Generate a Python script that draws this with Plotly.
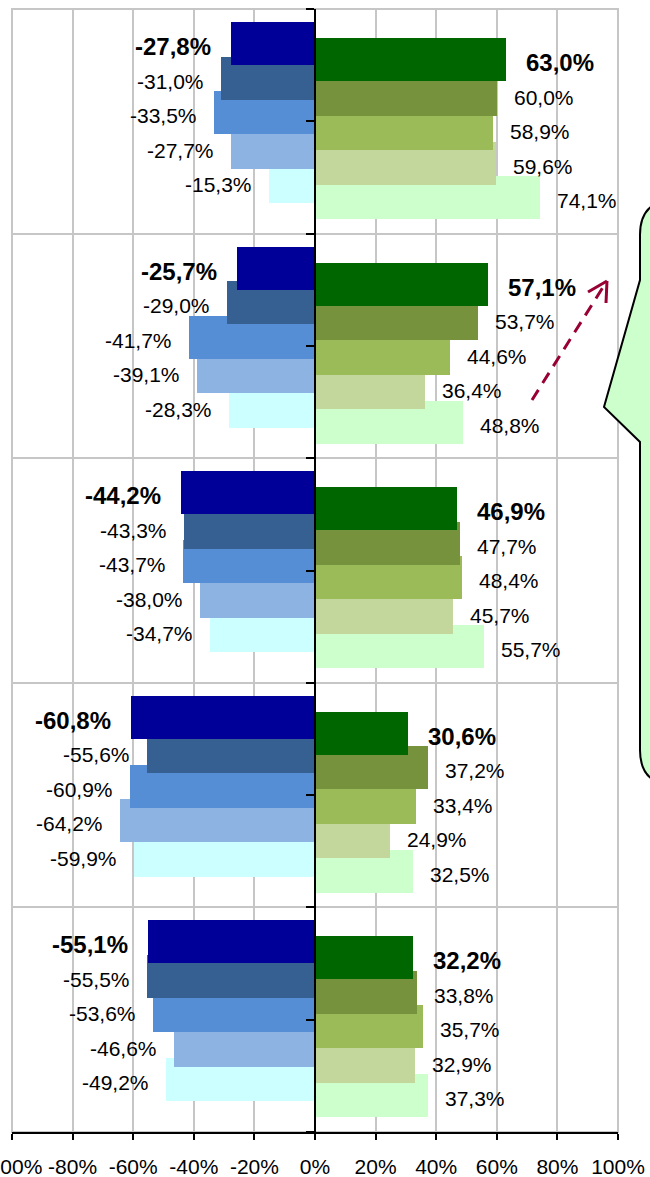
import plotly.graph_objects as go

# ---------------- data ----------------
groups = ["1", "2", "3", "4", "5"]

neg_s1 = [-27.8, -25.7, -44.2, -60.8, -55.1]
neg_s2 = [-31.0, -29.0, -43.3, -55.6, -55.5]
neg_s3 = [-33.5, -41.7, -43.7, -60.9, -53.6]
neg_s4 = [-27.7, -39.1, -38.0, -64.2, -46.6]
neg_s5 = [-15.3, -28.3, -34.7, -59.9, -49.2]

pos_s1 = [63.0, 57.1, 46.9, 30.6, 32.2]
pos_s2 = [60.0, 53.7, 47.7, 37.2, 33.8]
pos_s3 = [58.9, 44.6, 48.4, 33.4, 35.7]
pos_s4 = [59.6, 36.4, 45.7, 24.9, 32.9]
pos_s5 = [74.1, 48.8, 55.7, 32.5, 37.3]

x_tick_vals = [-100, -80, -60, -40, -20, 0, 20, 40, 60, 80, 100]
x_tick_text = ["-100%", "-80%", "-60%", "-40%", "-20%", "0%", "20%", "40%", "60%", "80%", "100%"]

neg_series = [neg_s1, neg_s2, neg_s3, neg_s4, neg_s5]
pos_series = [pos_s1, pos_s2, pos_s3, pos_s4, pos_s5]

neg_colors = ["#000099", "#366092", "#558ED5", "#8DB3E2", "#CCFFFF"]
pos_colors = ["#006600", "#76923C", "#9BBB59", "#C3D69B", "#CCFFCC"]

# ---------------- layout geometry ----------------
W, H = 650, 1177
PL, PR, PT, PB = 12, 618, 9, 1132
BAND = (PB - PT) / len(groups)  # px per group

NEG_OFF, POS_OFF, PITCH, BAR_H = 34.5, 50.5, 34.5, 43.0
GRID = "#C6C6C6"


def ypos(g, j, off):
    return g + (off + PITCH * j) / BAND


def fmt(v):
    return f"{v:.1f}".replace(".", ",") + "%"


FONT = "Arial, Liberation Sans, sans-serif"

fig = go.Figure()
annotations = []

for j in reversed(range(5)):
    ys = [ypos(g, j, NEG_OFF) for g in range(len(groups))]
    fig.add_trace(go.Bar(
        x=neg_series[j], y=ys, orientation="h", width=BAR_H / BAND,
        marker=dict(color=neg_colors[j], line=dict(width=0)),
        showlegend=False, hoverinfo="skip"))
    ys2 = [ypos(g, j, POS_OFF) for g in range(len(groups))]
    fig.add_trace(go.Bar(
        x=pos_series[j], y=ys2, orientation="h", width=BAR_H / BAND,
        marker=dict(color=pos_colors[j], line=dict(width=0)),
        showlegend=False, hoverinfo="skip"))

for j in range(5):
    bold = j == 0
    for g in range(len(groups)):
        v = neg_series[j][g]
        annotations.append(dict(
            x=v, y=ypos(g, j, NEG_OFF), xref="x", yref="y",
            text=(f"<b>{fmt(v)}</b>" if bold else fmt(v)),
            showarrow=False, xanchor="right", yanchor="middle",
            xshift=-(18 if bold else 15), yshift=-3,
            font=dict(family=FONT, size=24 if bold else 21, color="black")))
        v = pos_series[j][g]
        annotations.append(dict(
            x=v, y=ypos(g, j, POS_OFF), xref="x", yref="y",
            text=(f"<b>{fmt(v)}</b>" if bold else fmt(v)),
            showarrow=False, xanchor="left", yanchor="middle",
            xshift=(18 if bold else 15), yshift=-3,
            font=dict(family=FONT, size=24 if bold else 21, color="black")))


def px(x):
    return (x - PL) / (PR - PL)


def py(y):
    return (PB - y) / (PB - PT)


# callout bubble (partially outside the picture)
cpts = [
    ("M", [(640, 280)]), ("L", [(640, 235)]), ("Q", [(640, 200), (675, 200)]),
    ("L", [(720, 200)]), ("L", [(720, 785)]), ("L", [(675, 785)]),
    ("Q", [(640, 785), (640, 750)]), ("L", [(640, 442)]), ("L", [(604, 407)]),
]
path = ""
for cmd, pts in cpts:
    path += cmd + " ".join(f"{px(a):.5f},{py(b):.5f}" for a, b in pts) + " "
path += "Z"

ARROW = "#990033"
shapes = [
    # plot-area frame (grid lines at the range ends)
    dict(type="rect", xref="paper", yref="paper", x0=0, y0=0, x1=1, y1=1,
         line=dict(color=GRID, width=2), layer="below"),
    dict(type="path", path=path, xref="paper", yref="paper",
         fillcolor="#CCFFCC", line=dict(color="black", width=2), layer="above"),
    dict(type="line", xref="paper", yref="paper",
         x0=px(532), y0=py(400), x1=px(605), y1=py(284),
         line=dict(color=ARROW, width=3, dash="12px,8px")),
    dict(type="line", xref="paper", yref="paper",
         x0=px(607), y0=py(281), x1=px(588), y1=py(292),
         line=dict(color=ARROW, width=3)),
    dict(type="line", xref="paper", yref="paper",
         x0=px(607), y0=py(281), x1=px(606), y1=py(303),
         line=dict(color=ARROW, width=3)),
]

fig.update_layout(
    template="none",
    width=W, height=H,
    margin=dict(l=PL, r=W - PR, t=PT, b=H - PB, pad=0),
    paper_bgcolor="white", plot_bgcolor="white",
    barmode="overlay", bargap=0,
    showlegend=False,
    annotations=annotations,
    shapes=shapes,
    xaxis=dict(
        range=[-100, 100], tickmode="array", tickvals=x_tick_vals, ticktext=x_tick_text,
        showgrid=True, gridcolor=GRID, gridwidth=2,
        showline=True, linecolor="black", linewidth=2,
        ticks="outside", ticklen=6, tickwidth=2, tickcolor="black",
        zeroline=False, automargin=False, ticklabelstandoff=9,
        ticklabeloverflow="allow",
        tickfont=dict(family=FONT, size=21, color="black"),
    ),
    yaxis=dict(
        range=[5, 0], anchor="free", position=0.5, side="left",
        tickmode="linear", tick0=0, dtick=1, showticklabels=False,
        showgrid=True, gridcolor=GRID, gridwidth=2,
        showline=True, linecolor="black", linewidth=2,
        ticks="outside", ticklen=8, tickwidth=2, tickcolor="black",
        minor=dict(tick0=0, dtick=0.5, ticks="outside", ticklen=8, tickwidth=2,
                   tickcolor="black", showgrid=False),
        zeroline=False, automargin=False,
    ),
)

fig.write_html("out.html", config={"displayModeBar": False},
               post_script="document.body.style.margin='0';")
